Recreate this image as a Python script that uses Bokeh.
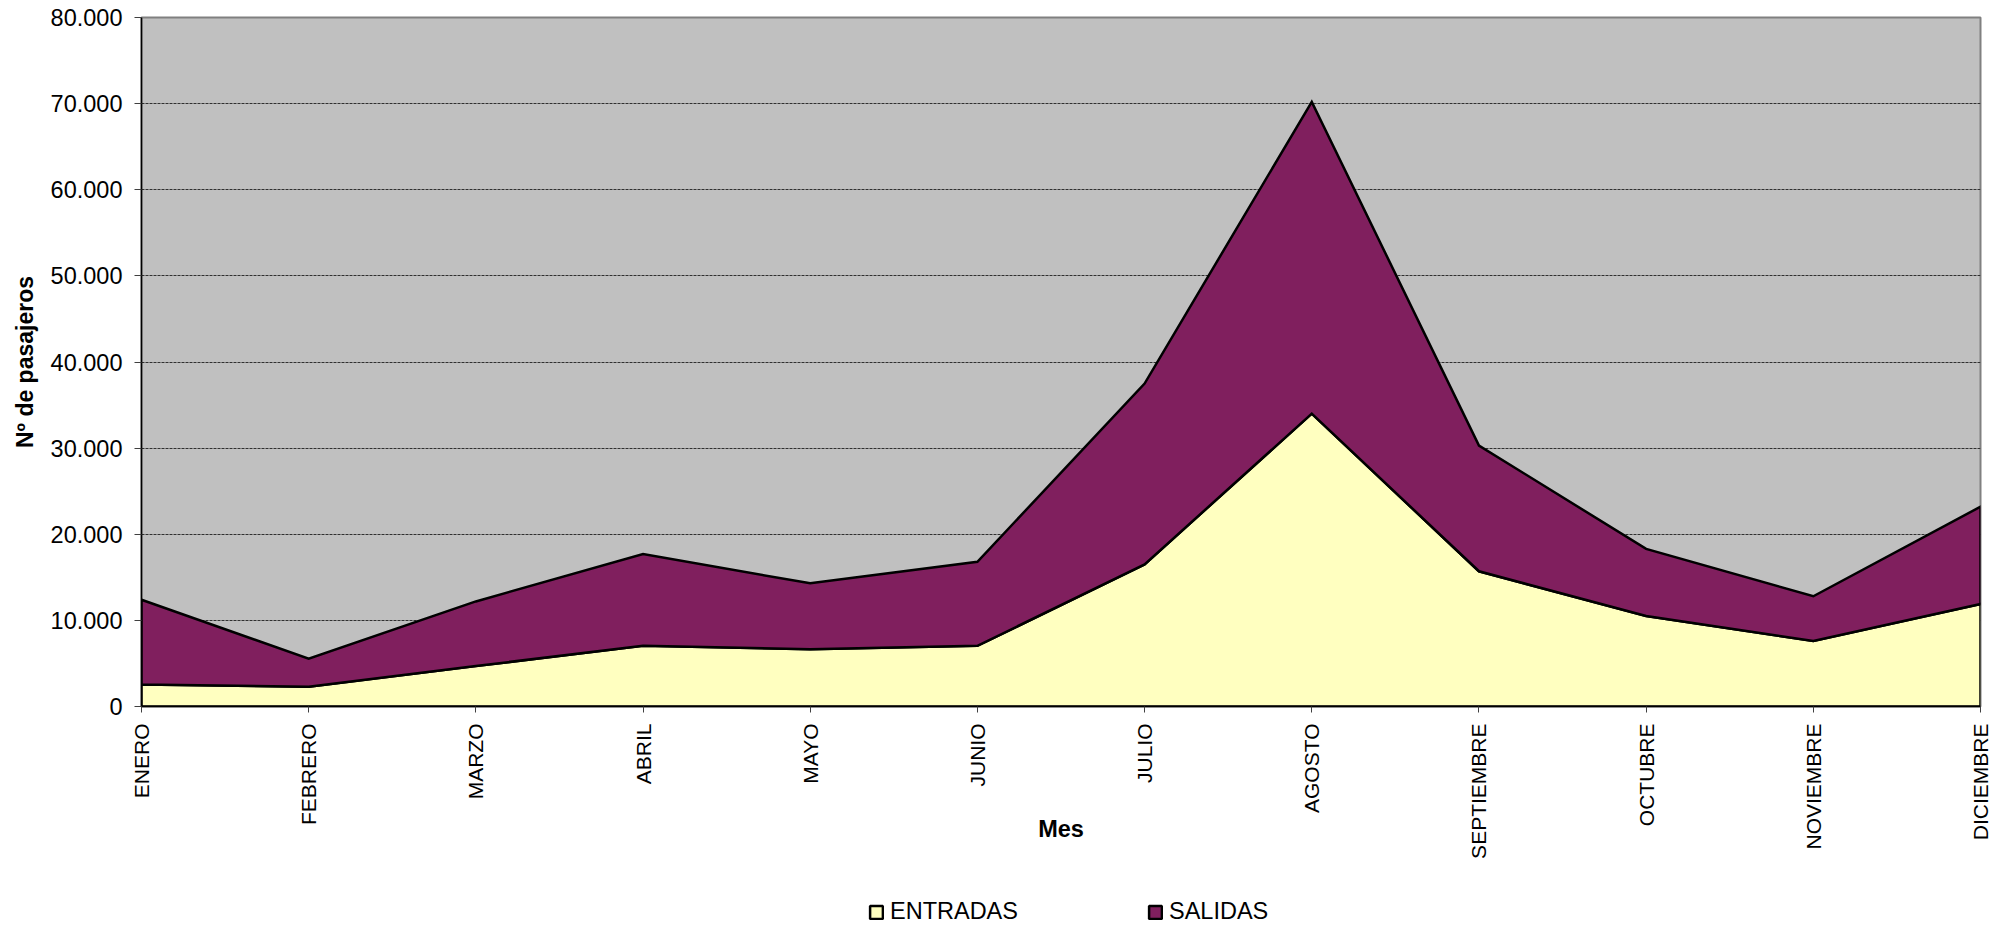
import math
from bokeh.plotting import figure
from bokeh.layouts import column
from bokeh.models import Range1d, FixedTicker, Legend, LegendItem
from bokeh.embed import file_html
from bokeh.resources import INLINE

# ---- data ----
months = ["ENERO", "FEBRERO", "MARZO", "ABRIL", "MAYO", "JUNIO",
          "JULIO", "AGOSTO", "SEPTIEMBRE", "OCTUBRE", "NOVIEMBRE", "DICIEMBRE"]
entradas = [2550, 2300, 4700, 7050, 6650, 7050, 16500, 34000, 15700, 10500, 7600, 11900]
salidas = [9850, 3250, 7500, 10650, 7650, 9750, 21000, 36200, 14600, 7800, 5200, 11300]
y_ticks = [0, 10000, 20000, 30000, 40000, 50000, 60000, 70000, 80000]
y_tick_labels = ["0", "10.000", "20.000", "30.000", "40.000", "50.000", "60.000", "70.000", "80.000"]
series_names = ["ENTRADAS", "SALIDAS"]

YELLOW = "#FFFFC0"
PURPLE = "#801F5E"
FONT = "Liberation Sans"

xs = list(range(len(months)))
totals = [a + b for a, b in zip(entradas, salidas)]

p = figure(width=2000, height=880, output_backend="svg", toolbar_location=None,
           x_range=Range1d(0, len(months) - 1), y_range=Range1d(0, 80000),
           min_border_left=141, min_border_right=20, min_border_top=17, min_border_bottom=174)

p.background_fill_color = "#C0C0C0"
p.border_fill_color = "white"
p.outline_line_color = "#808080"
p.outline_line_width = 2

# areas as closed polygons (stacked)
p.patch(xs + [xs[-1], xs[0]], entradas + [0, 0],
        fill_color=YELLOW, line_color="black", line_width=2.5, line_join="miter")
p.patch(xs + xs[::-1], totals + entradas[::-1],
        fill_color=PURPLE, line_color="black", line_width=2.5, line_join="miter")

# grids
p.xgrid.grid_line_color = None
p.ygrid.ticker = FixedTicker(ticks=y_ticks)
p.ygrid.grid_line_color = "#303030"
p.ygrid.grid_line_dash = "3 1"
p.ygrid.grid_line_width = 1

# y axis
p.yaxis.ticker = FixedTicker(ticks=y_ticks)
p.yaxis.major_label_overrides = {t: l for t, l in zip(y_ticks, y_tick_labels)}
p.yaxis.axis_line_color = "black"
p.yaxis.axis_line_width = 1.5
p.yaxis.major_tick_out = 7
p.yaxis.major_tick_in = 0
p.yaxis.major_tick_line_color = "#404040"
p.yaxis.minor_tick_line_color = None
p.yaxis.major_label_standoff = 12
p.yaxis.major_label_text_font = FONT
p.yaxis.major_label_text_font_size = "23.5px"
p.yaxis.major_label_text_color = "black"
p.yaxis.axis_label = "Nº de pasajeros"
p.yaxis.axis_label_text_font = FONT
p.yaxis.axis_label_text_font_size = "23px"
p.yaxis.axis_label_text_font_style = "bold"
p.yaxis.axis_label_text_color = "black"
p.yaxis.axis_label_standoff = 10

# x axis
p.xaxis.ticker = FixedTicker(ticks=xs)
p.xaxis.major_label_overrides = {i: m for i, m in zip(xs, months)}
p.xaxis.major_label_orientation = math.pi / 2
p.xaxis.axis_line_color = "black"
p.xaxis.axis_line_width = 1.5
p.xaxis.major_tick_out = 6
p.xaxis.major_tick_in = 0
p.xaxis.major_tick_line_color = "#404040"
p.xaxis.minor_tick_line_color = None
p.xaxis.major_label_standoff = 11
p.xaxis.major_label_text_font = FONT
p.xaxis.major_label_text_font_size = "21px"
p.xaxis.major_label_text_color = "black"
p.xaxis.axis_label = "Mes"
p.xaxis.axis_label_standoff = -46
p.xaxis.axis_label_text_font = FONT
p.xaxis.axis_label_text_font_size = "23.5px"
p.xaxis.axis_label_text_font_style = "bold"
p.xaxis.axis_label_text_color = "black"

# ---- legend strip below the chart ----
lg = figure(width=2000, height=45, output_backend="svg", toolbar_location=None,
            x_range=Range1d(0, 1), y_range=Range1d(0, 1),
            x_axis_location=None, y_axis_location=None,
            min_border_left=0, min_border_right=0, min_border_top=0, min_border_bottom=0)
lg.grid.grid_line_color = None
lg.outline_line_color = None
lg.background_fill_color = "white"
lg.border_fill_color = "white"
# swatch proxies, kept outside the visible range (only their legend glyphs show)
r1 = lg.quad(left=[-3], right=[-2], top=[-2], bottom=[-3],
             fill_color=YELLOW, line_color="black", line_width=2.5)
r2 = lg.quad(left=[-3], right=[-2], top=[-2], bottom=[-3],
             fill_color=PURPLE, line_color="black", line_width=2.5)

legend = Legend(items=[LegendItem(label=series_names[0], renderers=[r1]),
                       LegendItem(label=series_names[1], renderers=[r2])],
                location=(727, 0), orientation="horizontal",
                glyph_width=16, glyph_height=16, label_standoff=6, spacing=129,
                padding=0, margin=0, border_line_color=None, background_fill_alpha=0,
                label_text_font=FONT, label_text_font_size="23.5px", label_text_color="black")
lg.add_layout(legend)

layout = column(p, lg, spacing=0)
open("out.html", "w").write(file_html(layout, INLINE))
